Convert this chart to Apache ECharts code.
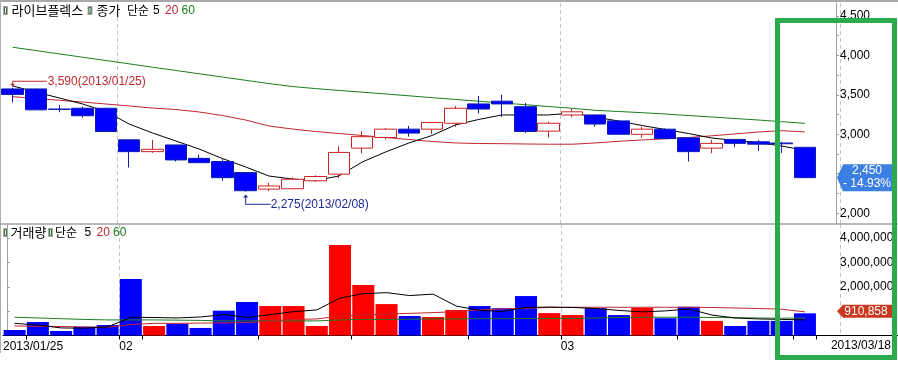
<!DOCTYPE html>
<html><head><meta charset="utf-8">
<script src="https://cdn.jsdelivr.net/npm/echarts@6/dist/echarts.min.js"></script>
<style>html,body{margin:0;padding:0;background:#fff;overflow:hidden}#c{width:898px;height:372px}</style>
</head><body><div id="c"></div>
<script>
// ---- data ----
const stockName = '라이브플렉스';
const dates = ['2013/01/25','2013/01/28','2013/01/29','2013/01/30','2013/01/31','2013/02/01','2013/02/04','2013/02/05','2013/02/06','2013/02/07','2013/02/08','2013/02/12','2013/02/13','2013/02/14','2013/02/15','2013/02/18','2013/02/19','2013/02/20','2013/02/21','2013/02/22','2013/02/25','2013/02/26','2013/02/27','2013/02/28','2013/03/04','2013/03/05','2013/03/06','2013/03/07','2013/03/08','2013/03/11','2013/03/12','2013/03/13','2013/03/14','2013/03/15','2013/03/18'];
const openP  = [3575,3575,3320,3330,3330,2930,2780,2865,2695,2655,2515,2305,2310,2410,2495,2825,2960,3065,3065,3140,3385,3420,3350,3040,3245,3245,3170,3000,3065,2955,2825,2935,2905,2890,2835];
const closeP = [3505,3310,3315,3235,3035,2780,2810,2675,2640,2450,2285,2345,2430,2465,2770,2970,3065,3015,3150,3330,3320,3385,3035,3140,3285,3130,3000,3065,2945,2780,2885,2885,2875,2880,2450];
const lowP   = [3405,3310,3280,3210,3030,2580,2765,2655,2640,2410,2275,2280,2310,2395,2445,2760,2935,2970,3005,3095,3265,3220,3015,2960,3215,3095,3000,2955,2945,2655,2760,2835,2790,2765,2450];
const highP  = [3590,3580,3370,3350,3335,2930,2930,2865,2740,2685,2515,2385,2455,2480,2845,3040,3080,3105,3150,3360,3485,3500,3395,3160,3330,3250,3180,3095,3075,2955,2930,2935,2930,2905,2835];
const ma5  = [3613,3536,3460,3384,3290,3130,3017,2915,2814,2693,2586,2471,2433,2414,2471,2648,2775,2889,2985,3118,3188,3245,3245,3245,3270,3219,3168,3112,3061,3010,2953,2921,2896,2852,2795];
const ma20 = [3477,3454,3431,3409,3384,3359,3333,3314,3283,3238,3181,3105,3067,3035,3010,2985,2959,2934,2909,2890,2883,2881,2877,2874,2874,2890,2911,2928,2943,2959,2981,3004,3029,3046,3030];
const ma60 = [4103,4061,4019,3977,3935,3893,3850,3809,3767,3726,3684,3643,3606,3579,3556,3534,3511,3488,3464,3442,3419,3397,3375,3352,3330,3304,3289,3274,3257,3238,3219,3200,3181,3160,3139];
const volume = [226000,554000,185000,360000,430000,2320000,390000,485000,310000,1020000,1376000,1210000,1210000,390000,3720000,2070000,1290000,800000,760000,1050000,1210000,1120000,1620000,920000,840000,1120000,840000,1140000,710000,1180000,600000,390000,600000,600000,910858];
const vma5  = [500000,430000,310000,300000,350000,750000,740000,720000,760000,860000,740000,860000,980000,1050000,1540000,1720000,1760000,1640000,1700000,1210000,1030000,990000,1150000,1170000,1150000,1110000,1030000,970000,1010000,1090000,840000,720000,680000,660000,640000];
const vma20 = [390000,380000,370000,350000,340000,450000,500000,500000,510000,520000,530000,600000,660000,680000,800000,840000,880000,910000,940000,980000,1050000,1090000,1120000,1150000,1160000,1160000,1160000,1160000,1160000,1160000,1150000,1130000,1110000,1080000,970000];
const vma60 = [750000,720000,690000,660000,640000,640000,640000,630000,620000,600000,600000,600000,600000,600000,640000,660000,660000,670000,680000,680000,690000,690000,700000,700000,700000,720000,740000,750000,750000,750000,740000,730000,720000,710000,720000];
const priceTickLabels = [2000,3000,3500,4000,4500];
const volTickLabels = [2000000,3000000,4000000];
const monthStartIdx = [5,24];
const weekTickIdx = [1,5,6,11,15,20,24,29,34,35];
const xLabelIdx = [0,5,24];
const xLabelText = ['2013/01/25','02','03'];
const lastDateLabel = '2013/03/18';
const maPeriods = ['5','20','60'];

// ---- chart ----
const FONT = "'Liberation Sans',sans-serif";
const KFONT = "'Noto Sans CJK KR','Noto Sans CJK SC',sans-serif";
const RED_MA = '#c3262b', GREEN_MA = '#1e7b1e';
const N = dates.length;
const cats = dates.concat(['']);
const chart = echarts.init(document.getElementById('c'));
const candleData = dates.map((d,i)=>[openP[i],closeP[i],lowP[i],highP[i]]);
const volData = volume.map((v,i)=>({value:v,itemStyle:{color: closeP[i]>openP[i] ? '#ff0000' : '#0000ff'}}));
const gridL = 1, gridW = 838.8;
const splitL = {show:true, interval:(i)=>monthStartIdx.indexOf(i)>=0, lineStyle:{color:'#c4c4c4', type:[4,3], width:1}};
const fmt = v => Number(v).toLocaleString('en-US');
const lineS = (name,data,color,xi,yi,z)=>({name,type:'line',data,xAxisIndex:xi,yAxisIndex:yi,symbol:'none',smooth:false,z,
  lineStyle:{color,width:1},silent:true});

chart.setOption({
  animation:false,
  backgroundColor:'#ffffff',
  grid:[{left:gridL,top:3,width:gridW,height:221},{left:gridL,top:224,width:gridW,height:111.5}],
  xAxis:[
    {type:'category',gridIndex:0,data:cats,boundaryGap:true,axisLine:{show:false},axisTick:{show:false},axisLabel:{show:false},splitLine:splitL},
    {type:'category',gridIndex:1,data:cats,boundaryGap:true,axisLine:{show:true,lineStyle:{color:'#000',width:1}},axisTick:{show:false},axisLabel:{show:false},splitLine:splitL},
    {type:'value',gridIndex:1,min:0,max:cats.length,position:'bottom',axisLine:{show:false},splitLine:{show:false},
      axisTick:{show:true,customValues:weekTickIdx,length:4,lineStyle:{color:'#000'}},
      axisLabel:{show:true,customValues:xLabelIdx,formatter:v=>xLabelText[xLabelIdx.indexOf(v)]||'',align:'left',margin:5,color:'#000',fontSize:12,fontFamily:FONT}}
  ],
  yAxis:[
    {type:'value',gridIndex:0,position:'right',offset:-3.8,min:1863,max:4664,splitLine:{show:false},
      axisLine:{show:true,lineStyle:{color:'#a0a0a0'}},
      axisTick:{show:true,customValues:[2000,2250,2500,2750,3000,3250,3500,3750,4000,4250,4500],length:3,lineStyle:{color:'#a0a0a0'}},
      axisLabel:{customValues:priceTickLabels,formatter:fmt,margin:4,color:'#000',fontSize:12,fontFamily:FONT}},
    {type:'value',gridIndex:1,position:'right',offset:-3.8,min:0,max:4580000,splitLine:{show:false},
      axisLine:{show:true,lineStyle:{color:'#a0a0a0'}},
      axisTick:{show:true,customValues:[1000000,2000000,3000000,4000000],length:3,lineStyle:{color:'#a0a0a0'}},
      axisLabel:{customValues:volTickLabels,formatter:fmt,margin:4,color:'#000',fontSize:12,fontFamily:FONT}}
  ],
  series:[
    lineS('ma60',ma60,GREEN_MA,0,0,2),
    lineS('ma20',ma20,RED_MA,0,0,2),
    lineS('ma5',ma5,'#000000',0,0,2),
    {type:'candlestick',xAxisIndex:0,yAxisIndex:0,data:candleData,barWidth:22,z:5,silent:true,
      itemStyle:{color:'#ffffff',color0:'#0000ff',borderColor:'#cc2222',borderColor0:'#0d1db0',borderWidth:1}},
    {type:'bar',xAxisIndex:1,yAxisIndex:1,data:volData,barWidth:22,z:2,silent:true},
    lineS('vma60',vma60,GREEN_MA,1,1,4),
    lineS('vma20',vma20,RED_MA,1,1,4),
    lineS('vma5',vma5,'#000000',1,1,4)
  ]
});

// ---- overlay graphics (positions taken from the chart's scales) ----
const P0 = (x,y)=>chart.convertToPixel({xAxisIndex:0,yAxisIndex:0},[x,y]);
let hiIdx=0, loIdx=0;
highP.forEach((v,i)=>{ if(v>highP[hiIdx]) hiIdx=i; });
lowP.forEach((v,i)=>{ if(v<lowP[loIdx]) loIdx=i; });
const hp = P0(hiIdx, highP[hiIdx]);
const lp = P0(loIdx, lowP[loIdx]);
const lastY = chart.convertToPixel({yAxisIndex:0}, closeP[N-1]);
const lastVY = chart.convertToPixel({yAxisIndex:1}, volume[N-1]);
const pct = (closeP[N-1]/closeP[N-2]-1)*100;
const pctTxt = (pct<0?'- ':'+ ')+Math.abs(pct).toFixed(2)+'%';
const axX = gridL+gridW-3.8;
const HI_C = '#c0282d', LO_C = '#1b2a9a';
const g = [];
// frame
g.push({type:'line',shape:{x1:0,y1:1,x2:898,y2:1},style:{stroke:'#a8a8a8',lineWidth:2},z:50});
g.push({type:'line',shape:{x1:0.5,y1:0,x2:0.5,y2:353},style:{stroke:'#b0b0b0',lineWidth:1},z:50});
g.push({type:'line',shape:{x1:0,y1:224,x2:898,y2:224},style:{stroke:'#a0a0a0',lineWidth:1.5},z:50});
g.push({type:'line',shape:{x1:axX,y1:335.5,x2:898,y2:335.5},style:{stroke:'#000',lineWidth:1},z:50});
// legends
function icon(x,y){
  g.push({type:'rect',shape:{x:x,y:y,width:5,height:9},style:{fill:'#a9a9a9'},z:60});
  g.push({type:'rect',shape:{x:x+1.5,y:y+1.5,width:2,height:6},style:{fill:'#e8efe8',stroke:'#3f6f45',lineWidth:1},z:61});
}
function txt(x,y,text,color,font,size){
  g.push({type:'text',x:x,y:y,z:60,style:{text:text,fill:color,fontSize:size||12,fontFamily:font,verticalAlign:'middle'}});
}
icon(3,6); txt(11.5,10.5,stockName,'#000',KFONT,13);
icon(87.5,6); txt(96.5,10.5,'종가','#000',KFONT,13); txt(127,10.5,'단순','#000',KFONT,12);
txt(153,10.5,maPeriods[0],'#000',FONT); txt(165,10.5,maPeriods[1],RED_MA,FONT); txt(181.5,10.5,maPeriods[2],GREEN_MA,FONT);
icon(3,228); txt(10.5,232.5,'거래량','#000',KFONT,13);
icon(48,228); txt(55,232.5,'단순','#000',KFONT,12);
txt(84.5,232.5,maPeriods[0],'#000',FONT); txt(96.5,232.5,maPeriods[1],RED_MA,FONT); txt(113,232.5,maPeriods[2],GREEN_MA,FONT);
// high annotation
g.push({type:'polyline',shape:{points:[[hp[0],hp[1]-2],[hp[0],hp[1]-6.5],[hp[0]+34,hp[1]-6.5]]},style:{stroke:HI_C,lineWidth:1,fill:null},z:60});
g.push({type:'polygon',shape:{points:[[hp[0]-2.5,hp[1]-4],[hp[0]+2.5,hp[1]-4],[hp[0],hp[1]-1]]},style:{fill:HI_C},z:60});
g.push({type:'text',x:hp[0]+35,y:hp[1]-6.5,z:60,style:{text:fmt(highP[hiIdx])+'('+dates[hiIdx]+')',fill:HI_C,fontSize:12,fontFamily:FONT,verticalAlign:'middle'}});
// low annotation
g.push({type:'polyline',shape:{points:[[lp[0],lp[1]+4],[lp[0],lp[1]+12.8],[lp[0]+25,lp[1]+12.8]]},style:{stroke:LO_C,lineWidth:1,fill:null},z:60});
g.push({type:'polygon',shape:{points:[[lp[0]-2.5,lp[1]+6],[lp[0]+2.5,lp[1]+6],[lp[0],lp[1]+3]]},style:{fill:LO_C},z:60});
g.push({type:'text',x:lp[0]+25,y:lp[1]+12.8,z:60,style:{text:fmt(lowP[loIdx])+'('+dates[loIdx]+')',fill:LO_C,fontSize:12,fontFamily:FONT,verticalAlign:'middle'}});
// price tag
g.push({type:'polygon',shape:{points:[[axX+1,lastY],[axX+7,lastY-13.5],[892,lastY-13.5],[892,lastY+13.5],[axX+7,lastY+13.5]]},style:{fill:'#3b7fe3'},z:70});
g.push({type:'text',x:867,y:lastY-6.5,z:71,style:{text:fmt(closeP[N-1]),fill:'#fff',fontSize:12,fontFamily:FONT,align:'center',verticalAlign:'middle'}});
g.push({type:'text',x:867,y:lastY+6.5,z:71,style:{text:pctTxt,fill:'#fff',fontSize:12,fontFamily:FONT,align:'center',verticalAlign:'middle'}});
// volume tag
g.push({type:'polygon',shape:{points:[[axX+1,lastVY-2],[axX+7,lastVY-8.5],[892,lastVY-8.5],[892,lastVY+4.5],[axX+7,lastVY+4.5]]},style:{fill:'#c9371f'},z:70});
g.push({type:'text',x:866,y:lastVY-2,z:71,style:{text:fmt(volume[N-1]),fill:'#fff',fontSize:12,fontFamily:FONT,align:'center',verticalAlign:'middle'}});
// last date label
g.push({type:'text',x:891,y:346,z:60,style:{text:lastDateLabel,fill:'#000',fontSize:12,fontFamily:FONT,align:'right',verticalAlign:'middle'}});
// green highlight box
g.push({type:'rect',shape:{x:777.5,y:20.5,width:117,height:337},style:{fill:null,stroke:'#2cab4e',lineWidth:5},z:100});
chart.setOption({graphic:g});
</script>
</body></html>
